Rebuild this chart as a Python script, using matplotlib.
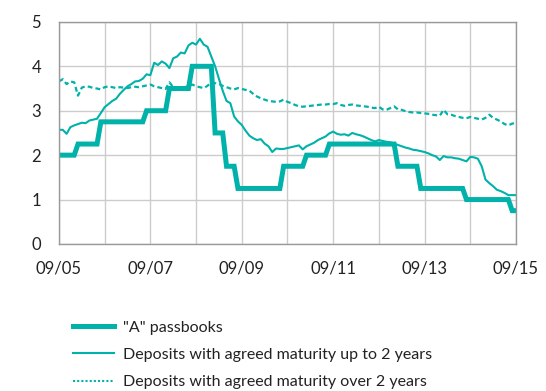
import matplotlib.pyplot as plt
from matplotlib.lines import Line2D
import numpy as np

teal = "#00b2a9"

# monthly observations, Sep 2005 .. Sep 2015
passbook_a = ([2.00] * 5 + [2.25] * 6 + [2.75] * 12 + [3.00] * 6 + [3.50] * 6 +
              [4.00] * 6 + [2.50] * 3 + [1.75] * 3 + [1.25] * 12 + [1.75] * 6 +
              [2.00] * 6 + [2.25] * 18 + [1.75] * 6 + [1.25] * 12 + [1.00] * 12 +
              [0.75] * 2)

upto_2y = [2.57, 2.57, 2.48, 2.63, 2.67, 2.70, 2.73, 2.72, 2.78, 2.80,
           2.82, 2.95, 3.08, 3.15, 3.22, 3.27, 3.38, 3.47, 3.55, 3.60,
           3.66, 3.67, 3.72, 3.82, 3.80, 4.08, 4.03, 4.11, 4.06, 3.96,
           4.18, 4.22, 4.31, 4.29, 4.47, 4.53, 4.49, 4.62, 4.49, 4.44,
           4.22, 4.00, 3.72, 3.45, 3.22, 3.17, 2.87, 2.76, 2.68, 2.55,
           2.44, 2.38, 2.34, 2.36, 2.26, 2.20, 2.07, 2.15, 2.14, 2.14,
           2.16, 2.18, 2.20, 2.22, 2.13, 2.20, 2.24, 2.28, 2.34, 2.38,
           2.42, 2.49, 2.53, 2.48, 2.46, 2.47, 2.44, 2.50, 2.47, 2.45,
           2.42, 2.38, 2.34, 2.31, 2.34, 2.32, 2.30, 2.29, 2.26, 2.23,
           2.20, 2.17, 2.15, 2.12, 2.11, 2.09, 2.07, 2.04, 2.00, 1.97,
           1.89, 1.98, 1.95, 1.95, 1.93, 1.92, 1.89, 1.86, 1.96, 1.95,
           1.92, 1.75, 1.45, 1.37, 1.30, 1.22, 1.19, 1.15, 1.10, 1.10,
           1.10]

over_2y = [3.66, 3.71, 3.60, 3.66, 3.64, 3.34, 3.52, 3.55, 3.54, 3.51,
           3.50, 3.48, 3.53, 3.55, 3.53, 3.51, 3.53, 3.52, 3.51, 3.53,
           3.54, 3.53, 3.55, 3.57, 3.59, 3.55, 3.53, 3.51, 3.49, 3.64,
           3.53, 3.51, 3.50, 3.53, 3.55, 3.59, 3.55, 3.53, 3.51, 3.56,
           3.64, 3.62, 3.60, 3.56, 3.53, 3.50, 3.48, 3.51, 3.49, 3.47,
           3.45, 3.38, 3.32, 3.28, 3.25, 3.22, 3.21, 3.20, 3.21, 3.25,
           3.20, 3.17, 3.13, 3.10, 3.09, 3.10, 3.11, 3.12, 3.13, 3.14,
           3.14, 3.15, 3.15, 3.17, 3.13, 3.11, 3.13, 3.14, 3.12, 3.11,
           3.10, 3.09, 3.07, 3.06, 3.09, 3.03, 3.02, 3.06, 3.10, 3.03,
           3.02, 2.99, 2.97, 2.96, 2.96, 2.95, 2.94, 2.93, 2.91, 2.90,
           2.89, 3.02, 2.92, 2.91, 2.88, 2.86, 2.84, 2.83, 2.86, 2.84,
           2.82, 2.80, 2.84, 2.91, 2.84, 2.80, 2.76, 2.70, 2.67, 2.71,
           2.72]

year_labels = ["09/05", "", "09/07", "", "09/09", "", "09/11", "", "09/13", "", "09/15"]

plt.rcParams['font.family'] = ['Lato', 'DejaVu Sans']

fig = plt.figure(figsize=(5.46, 3.91), dpi=100)
ax = fig.add_axes([0.108, 0.376, 0.837, 0.568])

months = np.arange(len(passbook_a))
ax.plot(months, over_2y, color=teal, lw=1.6, dashes=(2.2, 1.4))
ax.plot(months, upto_2y, color=teal, lw=1.5)
ax.plot(months, passbook_a, color=teal, lw=3.6, solid_joinstyle="miter")

ax.set_xlim(0, 120)
ax.set_ylim(0, 5)
ax.set_xticks(np.arange(0, 121, 12))
ax.set_xticklabels(year_labels)
ax.set_yticks(range(6))
ax.grid(True, color="#cccccc", lw=1)
ax.set_axisbelow(True)
ax.tick_params(length=0, labelsize=12, colors="#222222")
ax.tick_params(axis="x", pad=12)
ax.tick_params(axis="y", pad=13)
for s in ax.spines.values():
    s.set_color("#999999")
    s.set_linewidth(1)

handles = [
    Line2D([], [], color=teal, lw=3.6),
    Line2D([], [], color=teal, lw=1.5),
    Line2D([], [], color=teal, lw=1.5, linestyle=(0, (1, 1))),
]
labels = ['"A" passbooks',
          "Deposits with agreed maturity up to 2 years",
          "Deposits with agreed maturity over 2 years"]
fig.legend(handles, labels, loc="upper left", bbox_to_anchor=(0.133, 0.18),
           frameon=False, fontsize=11.5, handlelength=2.6, handletextpad=0.55,
           labelspacing=0.82, borderpad=0, borderaxespad=0,
           labelcolor="#222222")

fig.savefig("out.png", dpi=100)
